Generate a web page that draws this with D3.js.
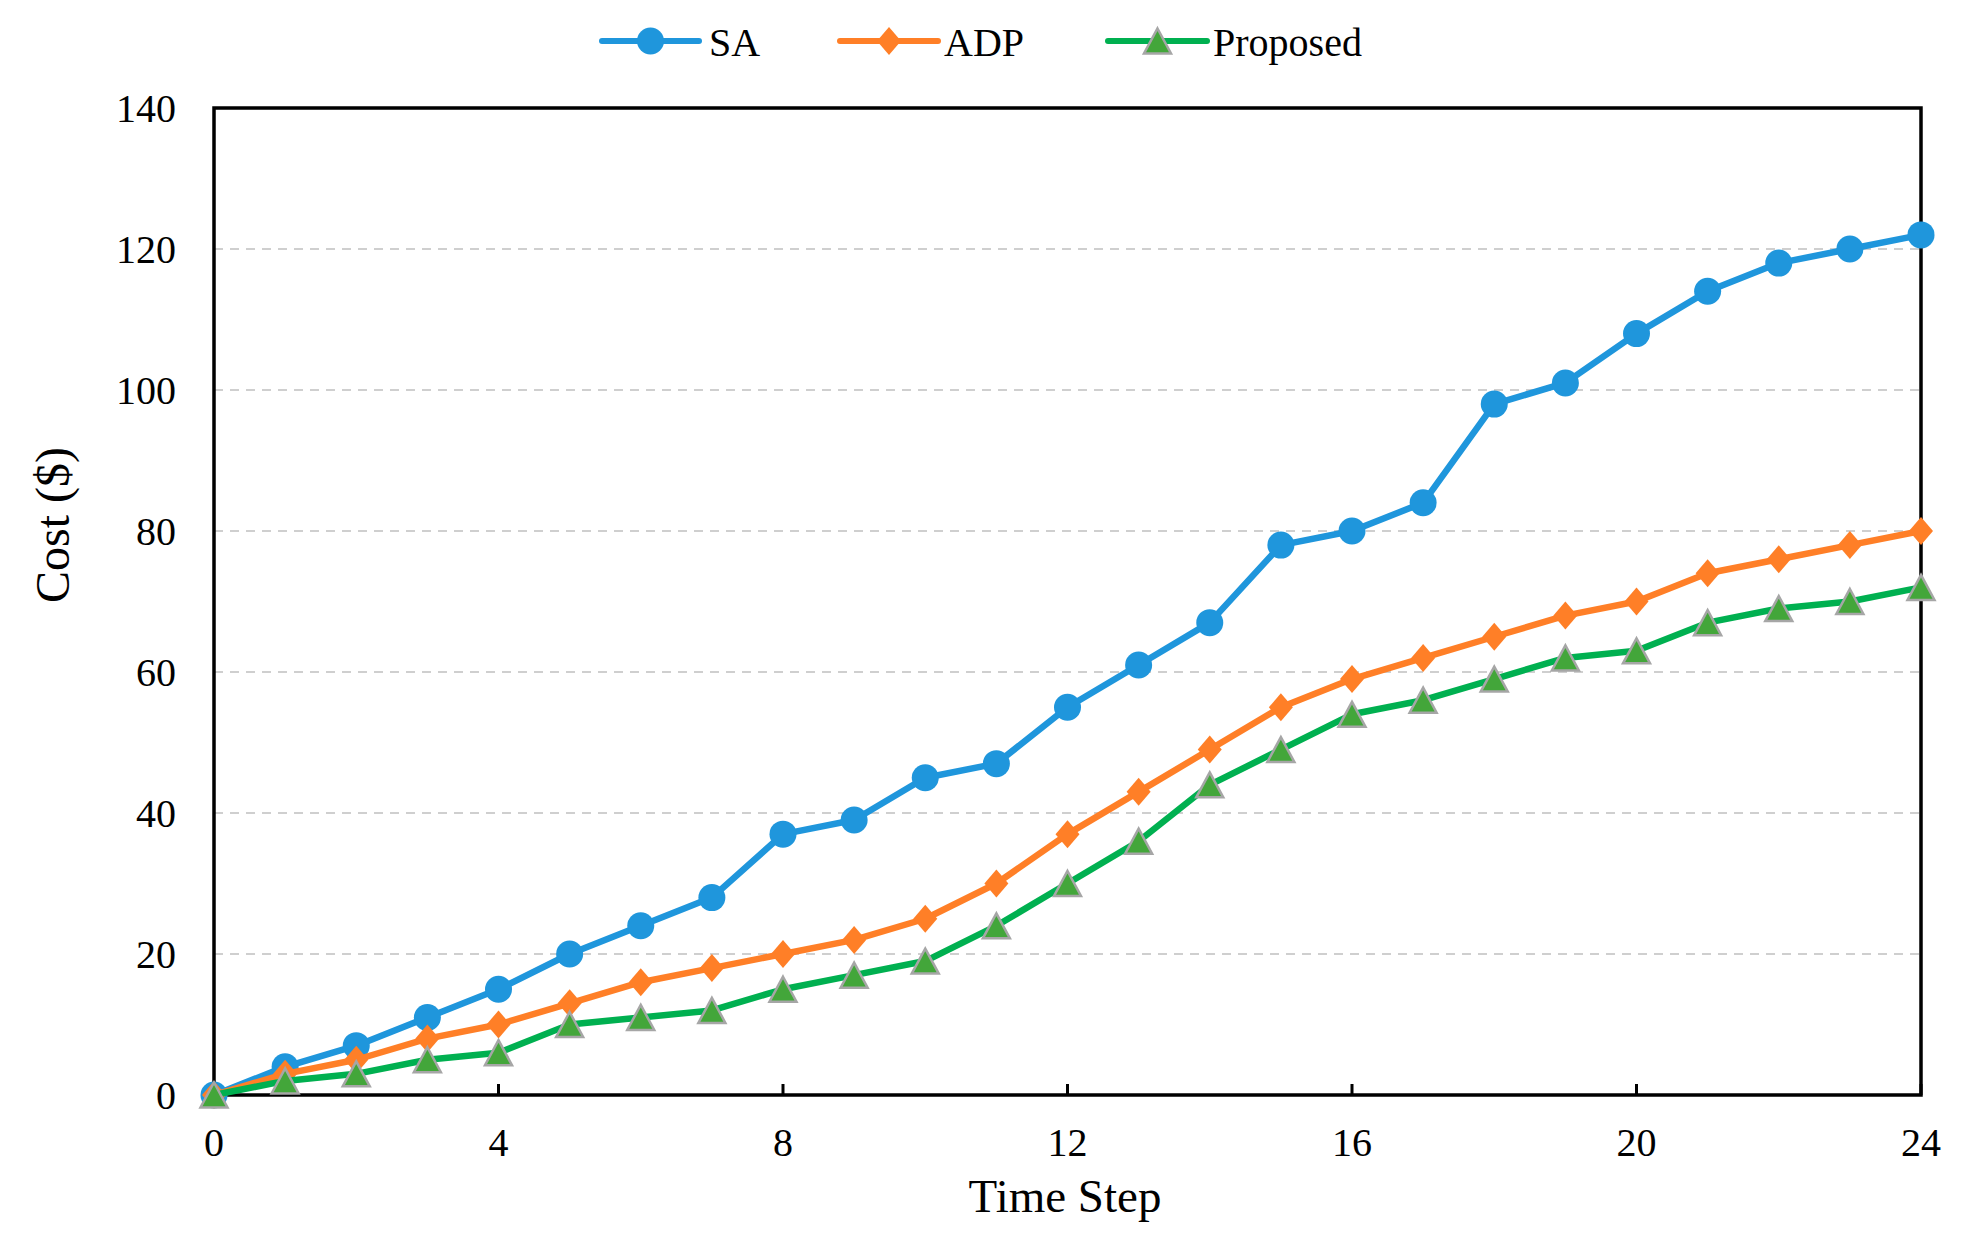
<!DOCTYPE html>
<html>
<head>
<meta charset="utf-8">
<script src="https://cdn.jsdelivr.net/npm/d3@7/dist/d3.min.js"></script>
<style>
  html, body { margin: 0; padding: 0; background: #fff; }
  svg { display: block; }
  text { font-family: "Liberation Serif", "Times New Roman", serif; fill: #000; }
</style>
</head>
<body>
<svg id="chart" width="1964" height="1248"></svg>
<script>
// ---- Data ----
const timeSteps = [0,1,2,3,4,5,6,7,8,9,10,11,12,13,14,15,16,17,18,19,20,21,22,23,24];
const saValues = [0,4,7,11,15,20,24,28,37,39,45,47,55,61,67,78,80,84,98,101,108,114,118,120,122];
const adpValues = [0,3,5,8,10,13,16,18,20,22,25,30,37,43,49,55,59,62,65,68,70,74,76,78,80];
const proposedValues = [0,2,3,5,6,10,11,12,15,17,19,24,30,36,44,49,54,56,59,62,63,67,69,70,72];
const seriesNames = ["SA", "ADP", "Proposed"];
const xTicks = [0,4,8,12,16,20,24];
const yTicks = [0,20,40,60,80,100,120,140];
const xTitle = "Time Step";
const yTitle = "Cost ($)";

(function () {
// ---- Layout ----
const svg = d3.select("#chart");
const pLeft = 214, pRight = 1921, pTop = 108, pBottom = 1095;
const x = d3.scaleLinear().domain([0, 24]).range([pLeft, pRight]);
const y = d3.scaleLinear().domain([0, 140]).range([pBottom, pTop]);

const colors = { SA: "#1f96dc", ADP: "#ff7f27", Proposed: "#00b050" };

// gridlines
svg.append("g").selectAll("line").data(yTicks.filter(d => d > 0 && d < 140)).join("line")
  .attr("x1", pLeft).attr("x2", pRight)
  .attr("y1", d => y(d)).attr("y2", d => y(d))
  .attr("stroke", "#cfcfcf").attr("stroke-width", 2).attr("stroke-dasharray", "9,7");

// y tick labels
svg.append("g").selectAll("text").data(yTicks).join("text")
  .attr("x", 176).attr("y", d => y(d)).attr("dy", "0.35em")
  .attr("text-anchor", "end").attr("font-size", 40).text(d => d);

// x ticks (inward) and labels
svg.append("g").selectAll("line").data(xTicks).join("line")
  .attr("x1", d => x(d)).attr("x2", d => x(d))
  .attr("y1", pBottom).attr("y2", pBottom - 11)
  .attr("stroke", "#000").attr("stroke-width", 3);
svg.append("g").selectAll("text").data(xTicks).join("text")
  .attr("x", d => x(d)).attr("y", 1156)
  .attr("text-anchor", "middle").attr("font-size", 40).text(d => d);

// frame
svg.append("rect").attr("x", pLeft).attr("y", pTop)
  .attr("width", pRight - pLeft).attr("height", pBottom - pTop)
  .attr("fill", "none").attr("stroke", "#000").attr("stroke-width", 3.5);

// axis titles
svg.append("text").attr("x", 1065).attr("y", 1212).attr("text-anchor", "middle")
  .attr("font-size", 47).text(xTitle);
svg.append("text").attr("transform", "translate(69,525) rotate(-90)")
  .attr("text-anchor", "middle").attr("font-size", 48).text(yTitle);

// marker shapes
function markerPath(kind) {
  if (kind === "SA") return d3.symbol().type(d3.symbolCircle).size(Math.PI * 13.5 * 13.5)();
  if (kind === "ADP") return "M0,-14L12,0L0,14L-12,0Z";
  return "M0,-12.5L13.5,12.5L-13.5,12.5Z";
}
const markerStyle = {
  SA: { fill: colors.SA, stroke: "none", sw: 0 },
  ADP: { fill: colors.ADP, stroke: "none", sw: 0 },
  Proposed: { fill: "#43a63a", stroke: "#a6a6a6", sw: 2.5 }
};

const seriesData = [
  { name: "SA", values: saValues },
  { name: "ADP", values: adpValues },
  { name: "Proposed", values: proposedValues }
];

const line = d3.line().x((d, i) => x(timeSteps[i])).y(d => y(d));

seriesData.forEach(s => {
  const g = svg.append("g");
  g.append("path").attr("d", line(s.values))
    .attr("fill", "none").attr("stroke", colors[s.name])
    .attr("stroke-width", 6.5).attr("stroke-linejoin", "round");
  const st = markerStyle[s.name];
  g.selectAll("path.m").data(s.values).join("path").attr("class", "m")
    .attr("d", markerPath(s.name))
    .attr("transform", (d, i) => `translate(${x(timeSteps[i])},${y(d)})`)
    .attr("fill", st.fill).attr("stroke", st.stroke).attr("stroke-width", st.sw);
});

// legend
const legendItems = [
  { x1: 602, x2: 699, tx: 709 },
  { x1: 840, x2: 938, tx: 944 },
  { x1: 1108, x2: 1207, tx: 1213 }
];
const lg = svg.append("g");
legendItems.forEach((it, i) => {
  const name = seriesNames[i];
  lg.append("line").attr("x1", it.x1).attr("x2", it.x2).attr("y1", 41).attr("y2", 41)
    .attr("stroke", colors[name]).attr("stroke-width", 6).attr("stroke-linecap", "round");
  const st = markerStyle[name];
  lg.append("path").attr("d", markerPath(name))
    .attr("transform", `translate(${(it.x1 + it.x2) / 2},41)`)
    .attr("fill", st.fill).attr("stroke", st.stroke).attr("stroke-width", st.sw);
  lg.append("text").attr("x", it.tx).attr("y", 56).attr("font-size", 40).text(name);
});
})();
</script>
</body>
</html>
